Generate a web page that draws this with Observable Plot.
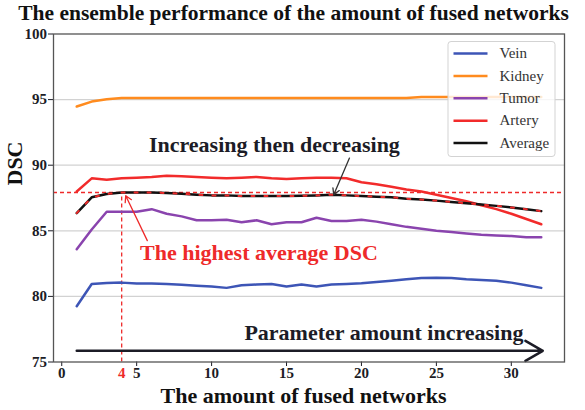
<!DOCTYPE html>
<html><head><meta charset="utf-8">
<script src="https://cdn.jsdelivr.net/npm/d3@7"></script>
<script src="https://cdn.jsdelivr.net/npm/@observablehq/plot@0.6"></script>
<style>html,body{margin:0;padding:0;background:#fff} svg{display:block}</style>
</head><body><div id="chart"></div>
<script>
// ---- data ----
const networks = [1,2,3,4,5,6,7,8,9,10,11,12,13,14,15,16,17,18,19,20,21,22,23,24,25,26,27,28,29,30,31,32];
const vein    = [79.25,80.95,81.03,81.05,80.98,80.98,80.95,80.88,80.82,80.75,80.65,80.85,80.9,80.95,80.75,80.9,80.75,80.9,80.95,81.0,81.1,81.2,81.3,81.4,81.42,81.4,81.3,81.25,81.2,81.05,80.85,80.65];
const kidney  = [94.47,94.85,95.03,95.12,95.12,95.12,95.12,95.12,95.12,95.12,95.12,95.12,95.12,95.12,95.12,95.12,95.12,95.12,95.12,95.12,95.12,95.12,95.12,95.2,95.2,95.2,95.2,95.2,95.2,95.2,95.2,95.2];
const tumor   = [83.6,85.1,86.45,86.45,86.45,86.65,86.3,86.1,85.8,85.8,85.85,85.65,85.8,85.5,85.65,85.65,86.0,85.75,85.75,85.85,85.7,85.5,85.3,85.15,85.0,84.9,84.8,84.7,84.65,84.6,84.5,84.5];
const artery  = [88.0,89.0,88.9,89.0,89.05,89.1,89.2,89.15,89.1,89.05,89.0,89.05,89.1,89.0,88.95,89.0,89.05,89.05,89.0,88.7,88.55,88.35,88.15,88.0,87.75,87.5,87.25,86.95,86.65,86.3,85.9,85.5];
const average = [86.35,87.55,87.8,87.92,87.92,87.92,87.88,87.82,87.75,87.7,87.7,87.65,87.65,87.65,87.65,87.67,87.7,87.75,87.7,87.65,87.6,87.55,87.45,87.38,87.3,87.2,87.1,87.0,86.9,86.78,86.65,86.5];
const seriesNames = ["Vein","Kidney","Tumor","Artery","Average"];
const seriesValues = [vein, kidney, tumor, artery, average];
const xTicks = [0,5,10,15,20,25,30];
const yTicks = [75,80,85,90,95,100];
const gridValues = [80,85,90,95];
const titleText = "The ensemble performance of the amount of fused networks";
const xTitle = "The amount of fused networks";
const yTitle = "DSC";
const noteRise = "Increasing then decreasing";
const noteBest = "The highest average DSC";
const noteParams = "Parameter amount increasing";

// ---- styling / layout ----
const SERIF = "Liberation Serif, Times New Roman, serif";
const seriesColors = ["#3d55b6","#ff8b1e","#8a44ae","#f22b2b","#111111"];
const RED = "#ee2a2a";
const INK = "#1c1c26";
const W = 585, H = 410;
const M = {top: 33.5, right: 21, bottom: 48.5, left: 53};
const xDomain = [-0.55, 33.55], yDomain = [75, 100];

const rows = seriesNames.flatMap((s, k) => networks.map((n, i) => ({series: s, n, v: seriesValues[k][i]})));
const avgRows = networks.map((n, i) => ({n, v: average[i]}));
const bestIdx = d3.maxIndex(average);
const bestN = networks[bestIdx];
const bestV = average[bestIdx];

// legend placement (pixel layout converted to the plot's scales)
const px2x = d3.scaleLinear().domain([M.left, W - M.right]).range(xDomain);
const py2y = d3.scaleLinear().domain([H - M.bottom, M.top]).range(yDomain);
const legRight = W - M.right - 9, legTop = M.top + 8, legW = 107, legH = 115, legLeft = legRight - legW;
const legendRows = seriesNames.map((name, i) => ({
  name, color: seriesColors[i],
  y: py2y(legTop + 11.6 + i * 22.35),
  xa: px2x(legLeft + 5), xb: px2x(legLeft + 39), xt: px2x(legLeft + 51)
}));

const chart = Plot.plot({
  width: W, height: H,
  marginTop: M.top, marginRight: M.right, marginBottom: M.bottom, marginLeft: M.left,
  style: {fontFamily: SERIF, fontSize: "15px", fontWeight: "bold", color: INK, background: "white", overflow: "visible"},
  x: {domain: xDomain},
  y: {domain: yDomain},
  color: {domain: seriesNames, range: seriesColors},
  marks: [
    Plot.ruleY(gridValues, {stroke: "#d2d2d2", strokeWidth: 1.2}),
    Plot.axisY({ticks: yTicks, tickSize: 5, tickPadding: 1.5, label: null}),
    Plot.axisX({ticks: xTicks, tickSize: 4.5, tickPadding: 1, label: null}),
    Plot.axisX({ticks: [bestN], tickSize: 0, tickPadding: 5.5, label: null, color: RED}),
    Plot.ruleY([bestV], {stroke: RED, strokeWidth: 1.3, strokeDasharray: "4,3"}),
    Plot.ruleX([{x: bestN, y1: yDomain[0], y2: bestV}], {x: "x", y1: "y1", y2: "y2", stroke: RED, strokeWidth: 1.3, strokeDasharray: "4,3"}),
    Plot.line(rows, {x: "n", y: "v", z: "series", stroke: "series", strokeWidth: 2.5, strokeLinejoin: "round"}),
    Plot.line(avgRows, {x: "n", y: "v", stroke: RED, strokeWidth: 2, strokeDasharray: "3,10"}),
    Plot.arrow([{x1: 19.2, y1: 90.54, x2: 18.15, y2: 87.75}], {x1: "x1", y1: "y1", x2: "x2", y2: "y2", stroke: "#333", strokeWidth: 1.3, headLength: 8}),
    Plot.arrow([{x1: 5.71, y1: 84.25, x2: 4.27, y2: 87.67}], {x1: "x1", y1: "y1", x2: "x2", y2: "y2", stroke: RED, strokeWidth: 1.3, headLength: 8}),
    Plot.arrow([{x1: 1, x2: 32.1, y: 75.85}], {x1: "x1", x2: "x2", y1: "y", y2: "y", stroke: INK, strokeWidth: 2.5, headLength: 12}),
    Plot.text([noteRise], {x: 14.19, y: 91.57, text: d => d, fontSize: 22, fill: INK}),
    Plot.text([noteBest], {x: 13.16, y: 83.32, text: d => d, fontSize: 22, fill: RED}),
    Plot.text([noteParams], {x: 21.5, y: 77.2, text: d => d, fontSize: 22, fill: INK}),
    Plot.frame({stroke: "#555", strokeWidth: 1.3}),
    // legend
    Plot.rect([{x1: px2x(legLeft), x2: px2x(legRight), y1: py2y(legTop + legH), y2: py2y(legTop)}],
      {x1: "x1", x2: "x2", y1: "y1", y2: "y2", fill: "white", fillOpacity: 0.8, stroke: "#d3d3d3", rx: 3}),
    Plot.link(legendRows, {x1: "xa", x2: "xb", y1: "y", y2: "y", stroke: d => d.color, strokeWidth: 2.5}),
    Plot.text(legendRows, {x: "xt", y: "y", text: "name", textAnchor: "start", fontWeight: "normal", fontSize: 15, fontFamily: "Liberation Serif", fill: "#333"}),
    // titles
    Plot.text([titleText], {frameAnchor: "top", lineAnchor: "middle", dx: -15.5, dy: -21, text: d => d, fontSize: 21.5, fill: "#111"}),
    Plot.text([xTitle], {frameAnchor: "bottom", lineAnchor: "middle", dx: -5.5, dy: 33.5, text: d => d, fontSize: 22, fill: "#111"}),
    Plot.text([yTitle], {frameAnchor: "left", lineAnchor: "middle", rotate: -90, dx: -38.5, dy: -12.5, text: d => d, fontSize: 22, fill: "#111"})
  ]
});
document.getElementById("chart").append(chart);
</script>
</body></html>
